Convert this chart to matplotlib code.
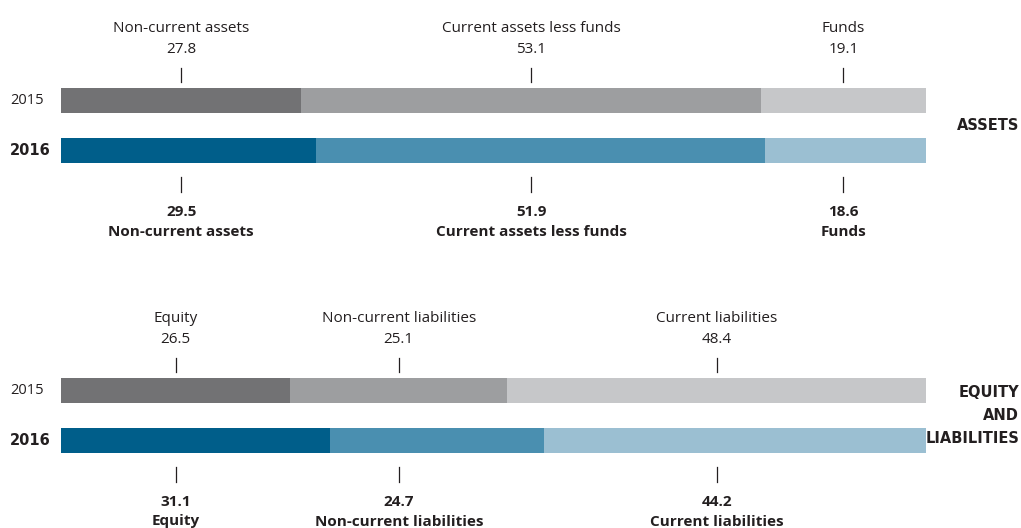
import matplotlib
matplotlib.use("Agg")
from matplotlib import pyplot as plt

plt.rcParams['font.family'] = ['Open Sans', 'DejaVu Sans']

# data (percent of total)
years = ['2015', '2016']
asset_names = ['Non-current assets', 'Current assets less funds', 'Funds']
assets_2015 = [27.8, 53.1, 19.1]
assets_2016 = [29.5, 51.9, 18.6]
liab_names = ['Equity', 'Non-current liabilities', 'Current liabilities']
liab_2015 = [26.5, 25.1, 48.4]
liab_2016 = [31.1, 24.7, 44.2]

grey = ['#727274', '#9d9ea0', '#c6c7c9']
blue = ['#005e8a', '#4a8fb0', '#9bbfd2']
ink = '#231f20'

W, H = 1021, 528
fig = plt.figure(figsize=(W / 100, H / 100), dpi=100)
# x: 0..100 maps onto the bar span, y in pixels from the top
ax = fig.add_axes([61 / W, 0, 865 / W, 1])
ax.set_xlim(0, 100)
ax.set_ylim(H, 0)
ax.axis('off')

def draw_section(top, names, v15, v16, title):
    # top = pixel row of the first label line
    y15 = top + 73.5
    y16 = top + 123.5
    left = 0
    for v, c in zip(v15, grey):
        ax.barh(y15, v, left=left, height=25, color=c, linewidth=0)
        left += v
    left = 0
    for v, c in zip(v16, blue):
        ax.barh(y16, v, left=left, height=25, color=c, linewidth=0)
        left += v

    # labels + ticks placed at the middle of the 2015 segments
    left = 0
    for i in range(len(names)):
        x = left + v15[i] / 2
        left += v15[i]
        ax.text(x, top + 1.5, names[i], ha='center', va='center', fontsize=11, color=ink)
        ax.text(x, top + 22.5, f'{v15[i]:.1f}', ha='center', va='center', fontsize=11, color=ink)
        ax.plot([x, x], [top + 41, top + 55], color=ink, lw=0.9)
        ax.plot([x, x], [top + 150, top + 165], color=ink, lw=0.9)
        ax.text(x, top + 184.5, f'{v16[i]:.1f}', ha='center', va='center', fontsize=11,
                fontweight='bold', color=ink)
        ax.text(x, top + 204.5, names[i], ha='center', va='center', fontsize=11,
                fontweight='bold', color=ink)

    fig.text(10 / W, 1 - y15 / H, years[0], ha='left', va='center', fontsize=10.5, color=ink)
    fig.text(10 / W, 1 - y16 / H, years[1], ha='left', va='center', fontsize=10.5,
             fontweight='bold', family='DejaVu Sans', color=ink)
    fig.text(1019 / W, 1 - (y15 + y16) / 2 / H, title, ha='right', va='center', fontsize=10.5,
             fontweight='bold', family='DejaVu Sans', color=ink, linespacing=1.65)

draw_section(27, asset_names, assets_2015, assets_2016, 'ASSETS')
draw_section(317, liab_names, liab_2015, liab_2016, 'EQUITY\nAND\nLIABILITIES')

fig.savefig('out.png', dpi=100)
